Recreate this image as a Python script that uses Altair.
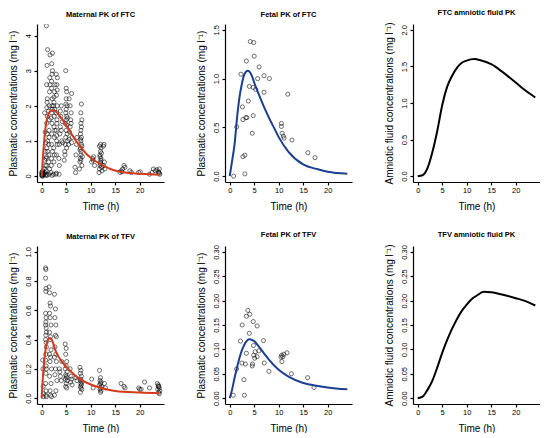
import altair as alt
import pandas as pd

# ---------------- data ----------------
x_ticks = [0, 5, 10, 15, 20]

# Maternal FTC observations
mat_ftc_t = [0.0, 0.05, 0.1, 0.15, 0.2, 0.25, 0.0, 0.3, 0.1, 0.2,
             0.5, 0.55, 0.6, 0.65, 0.7, 0.75, 0.8, 0.85, 0.6, 0.9, 0.7, 0.9,
             1.0, 1.0, 1.05, 1.1, 1.0, 1.15, 1.1, 1.0, 1.1, 1.2, 1.0, 1.2, 1.05, 1.15, 1.1, 1.2, 0.95,
             1.4, 1.45, 1.5, 1.55, 1.5, 1.6, 1.65, 1.7, 1.5, 1.45, 1.6, 1.5, 1.7, 1.4,
             1.9, 2.0, 2.0, 2.05, 2.1, 2.0, 2.1, 2.15, 2.0, 2.1, 2.05, 2.2, 1.95, 2.2, 2.15, 2.0, 2.1, 2.2, 1.9,
             2.4, 2.5, 2.45, 2.6, 2.5, 2.55, 2.65, 2.5, 2.6, 2.7, 2.4, 2.7, 2.6, 2.5,
             2.9, 3.0, 3.05, 3.0, 3.1, 3.0, 3.15, 3.0, 3.1, 3.2, 2.95, 3.1, 3.2, 3.0, 3.15, 3.05,
             3.5, 3.6, 3.7, 3.8, 3.9, 4.0, 3.6, 4.1, 4.2, 3.8, 3.55, 4.3, 4.0,
             4.6, 4.7, 4.8, 4.9, 5.0, 4.8, 5.0, 5.1, 4.9, 5.0, 5.2, 5.0, 5.1, 5.0, 4.9, 5.2, 5.3, 4.75, 5.15, 4.95, 5.25, 5.1,
             5.5, 5.6, 5.7, 5.8, 5.9, 6.0, 5.8, 6.1, 6.0, 6.2, 5.6, 6.1,
             6.9, 7.0, 7.1, 7.2, 6.8,
             7.7, 7.8, 7.9, 8.0, 8.0, 7.9, 8.1, 8.0, 8.1, 7.9, 8.0, 8.1, 8.0, 8.2, 8.0, 8.1, 8.2, 7.8, 8.3, 8.2, 8.0, 7.9,
             10.2, 10.4, 10.6, 10.8, 10.5,
             11.7, 11.8, 11.9, 12.0, 12.0, 12.1, 11.9, 12.0, 12.1, 11.8, 12.0, 12.2, 12.1, 12.3, 11.9, 12.2,
             12.6, 12.8, 12.7, 12.9, 12.6,
             16.0, 16.2, 16.5, 16.8, 17.0, 16.4, 18.0, 18.3, 19.8, 20.1,
             22.0, 22.5, 22.8, 23.2, 23.5, 23.8, 24.0, 24.0, 23.9, 24.1]
mat_ftc_c = [0.02, 0.08, 0.0, 0.12, 0.04, 0.15, 0.1, 0.06, 0.03, 0.0,
             0.05, 0.2, 0.45, 0.1, 0.7, 0.3, 0.02, 0.95, 1.8, 0.15, 1.25, 0.5,
             0.3, 0.55, 0.8, 1.2, 1.5, 1.7, 2.1, 2.6, 3.15, 3.6, 0.05, 0.7, 1.95, 2.2, 0.02, 1.0, 4.28,
             0.4, 0.9, 1.3, 1.6, 2.0, 2.4, 2.8, 3.45, 1.1, 0.6, 0.2, 0.05, 2.6, 1.85,
             0.1, 0.5, 0.9, 1.2, 1.5, 1.8, 2.0, 2.2, 2.5, 2.9, 3.2, 3.0, 0.3, 0.7, 1.9, 2.7, 0.02, 3.5, 1.65,
             0.05, 0.4, 0.8, 1.1, 1.4, 1.7, 1.9, 2.1, 2.4, 2.6, 2.0, 1.3, 0.6, 2.25,
             0.05, 0.6, 1.0, 1.3, 1.5, 1.8, 2.0, 2.3, 2.6, 2.8, 2.9, 1.6, 0.9, 0.08, 2.45, 1.15,
             0.5, 0.9, 1.2, 1.4, 1.7, 2.0, 0.3, 1.0, 1.55, 1.85, 0.05, 0.95, 1.3,
             0.45, 0.7, 0.9, 1.1, 1.3, 1.5, 1.6, 1.7, 1.8, 1.9, 2.0, 2.2, 2.4, 2.5, 3.0, 1.2, 1.0, 0.6, 1.45, 2.05, 1.65, 0.8,
             0.9, 1.05, 1.25, 1.4, 1.6, 1.8, 2.0, 2.35, 1.5, 1.1, 2.2, 0.95,
             0.1, 0.6, 0.9, 1.1, 0.25,
             0.2, 0.4, 0.5, 0.6, 0.7, 0.8, 0.9, 1.0, 1.1, 1.2, 1.3, 1.4, 1.5, 1.6, 1.8, 2.05, 0.3, 0.75, 0.55, 0.85, 0.45, 1.05,
             0.4, 0.5, 0.55, 0.3, 0.45,
             0.1, 0.2, 0.3, 0.35, 0.4, 0.5, 0.6, 0.7, 0.8, 0.85, 0.9, 0.25, 0.45, 0.15, 0.55, 0.65,
             0.3, 0.4, 0.9, 0.2, 0.85,
             0.1, 0.15, 0.2, 0.3, 0.25, 0.12, 0.15, 0.1, 0.1, 0.12,
             0.05, 0.1, 0.2, 0.15, 0.18, 0.12, 0.08, 0.2, 0.1, 0.05]
mat_ftc_curve_t = [0, 0.25, 0.5, 0.75, 1, 1.5, 2, 2.5, 3, 3.5, 4, 5, 6, 7, 8, 9, 10, 11, 12, 14, 16, 18, 20, 22, 24]
mat_ftc_curve_c = [0, 0.55, 1.0, 1.35, 1.58, 1.8, 1.87, 1.87, 1.82, 1.74, 1.65, 1.45, 1.22, 1.0, 0.82, 0.65,
                   0.52, 0.42, 0.34, 0.2, 0.12, 0.085, 0.065, 0.05, 0.035]

# Fetal FTC observations
fet_ftc_t = [0.8, 1.43, 2.3, 2.6, 2.7, 2.7, 3.1, 3.1, 3.3, 3.5, 3.4, 3.8, 4.0, 4.2, 4.6, 4.8, 4.8, 4.9,
             5.0, 5.3, 5.7, 6.0, 7.0, 7.0, 8.1, 10.55, 10.55, 10.7, 10.95, 11.1, 11.85, 12.7, 15.95, 17.4]
fet_ftc_c = [0.0, 0.505, 1.045, 0.71, 0.58, 0.2, 0.215, 0.023, 0.6, 0.6, 1.18, 0.77, 0.92, 1.38, 0.44, 0.62,
             0.91, 1.37, 1.23, 0.89, 1.0, 1.12, 0.86, 1.03, 1.0, 0.54, 0.51, 0.44, 0.41, 0.39, 0.84, 0.37, 0.24, 0.19]
fet_ftc_curve_t = [0, 0.5, 1, 1.5, 2, 2.5, 3, 3.7, 4.5, 5, 6, 7, 8, 9, 10, 12, 15, 18, 20, 24]
fet_ftc_curve_c = [0, 0.16, 0.33, 0.6, 0.81, 0.95, 1.045, 1.08, 1.03, 0.96, 0.83, 0.71, 0.6, 0.5, 0.4, 0.25,
                   0.12, 0.07, 0.045, 0.025]

# FTC amniotic fluid model
amn_ftc_t = [0, 1, 2, 3, 4, 5, 6, 7, 8, 9, 10, 11.5, 13, 15, 17, 20, 22, 24]
amn_ftc_c = [0, 0.013, 0.11, 0.33, 0.62, 0.97, 1.22, 1.37, 1.48, 1.55, 1.58, 1.6, 1.58, 1.53, 1.44, 1.28, 1.17, 1.075]

# Maternal TFV observations
mat_tfv_t = [0.2, 0.25, 0.3, 0.35, 0.3,
             0.8, 0.85, 0.8, 0.9, 0.85, 0.8, 0.9, 0.85, 0.8, 0.9, 0.95, 0.85, 0.8, 0.9, 0.95, 0.85, 0.8, 0.9,
             0.95, 0.85, 0.8, 0.9, 0.85, 0.95,
             1.5, 1.6, 1.7, 1.8, 1.6, 1.7, 1.9, 1.6, 1.8, 1.7, 1.9, 1.6, 1.8, 1.7, 2.0, 1.6, 1.9, 1.7, 1.8, 2.0,
             2.6, 2.8, 2.7, 2.9, 2.8, 3.0, 2.7, 2.9, 2.6, 3.0, 2.8, 2.7, 3.1, 2.9, 2.6,
             3.6, 3.8, 4.0, 3.7, 4.1,
             4.8, 5.0, 4.9, 5.1, 5.0, 4.8, 5.2, 4.9, 5.0, 5.1, 4.8, 5.2, 5.0, 4.9, 5.1,
             5.8, 6.0, 6.1, 5.9, 6.2, 7.0, 7.2,
             7.8, 8.0, 7.9, 8.1, 8.0, 7.9, 8.2, 8.0, 8.1, 7.9, 8.0, 8.2, 7.9,
             10.2, 10.5,
             11.8, 12.0, 11.9, 12.1, 12.0, 11.8, 12.2, 12.0, 11.9, 12.1, 12.0, 12.8, 13.0,
             16.2, 16.8, 17.0, 19.8, 20.0, 20.3, 21.0, 22.0,
             23.6, 23.8, 23.9, 24.0, 23.7, 24.1, 23.9, 24.0, 23.8]
mat_tfv_c = [0.26, 0.2, 0.01, 0.03, 0.08,
             0.89, 0.88, 0.82, 0.75, 0.73, 0.58, 0.55, 0.52, 0.5, 0.48, 0.45, 0.43, 0.4, 0.38, 0.35, 0.3, 0.26, 0.22,
             0.2, 0.17, 0.1, 0.05, 0.02, 0.01,
             0.76, 0.72, 0.65, 0.63, 0.58, 0.55, 0.5, 0.45, 0.42, 0.4, 0.33, 0.3, 0.28, 0.25, 0.2, 0.15, 0.1, 0.05, 0.02, 0.01,
             0.71, 0.61, 0.55, 0.5, 0.43, 0.42, 0.35, 0.3, 0.28, 0.25, 0.2, 0.16, 0.12, 0.05, 0.02,
             0.2, 0.15, 0.12, 0.18, 0.25,
             0.37, 0.34, 0.3, 0.25, 0.22, 0.2, 0.18, 0.16, 0.15, 0.14, 0.13, 0.12, 0.1, 0.08, 0.07,
             0.2, 0.15, 0.13, 0.11, 0.09, 0.14, 0.12,
             0.21, 0.19, 0.17, 0.15, 0.13, 0.12, 0.11, 0.1, 0.09, 0.08, 0.07, 0.06, 0.04,
             0.13, 0.07,
             0.19, 0.14, 0.12, 0.11, 0.1, 0.09, 0.08, 0.07, 0.06, 0.05, 0.04, 0.1, 0.07,
             0.1, 0.08, 0.07, 0.07, 0.06, 0.06, 0.11, 0.07,
             0.1, 0.09, 0.08, 0.07, 0.06, 0.05, 0.04, 0.03, 0.08]
mat_tfv_curve_t = [0, 0.25, 0.5, 1, 1.6, 2, 3, 4, 5, 6, 7, 8, 10, 12, 15, 20, 24]
mat_tfv_curve_c = [0, 0.15, 0.25, 0.37, 0.41, 0.4, 0.31, 0.255, 0.215, 0.18, 0.15, 0.126, 0.093, 0.071, 0.049, 0.038, 0.033]

# Fetal TFV observations
fet_tfv_t = [0.72, 1.4, 2.2, 2.55, 2.5, 2.9, 3.0, 3.2, 3.4, 3.4, 3.7, 4.1, 4.0, 4.6, 4.65, 4.8, 4.85, 4.9,
             5.1, 5.2, 5.6, 5.6, 5.95, 6.9, 7.05, 8.0, 10.45, 10.6, 10.65, 10.85, 11.05, 11.7, 12.6, 15.9, 17.2]
fet_tfv_c = [0.006, 0.06, 0.117, 0.15, 0.072, 0.038, 0.006, 0.07, 0.092, 0.168, 0.18, 0.172, 0.133, 0.066, 0.07,
             0.157, 0.108, 0.088, 0.082, 0.095, 0.148, 0.085, 0.097, 0.118, 0.072, 0.055, 0.084, 0.088, 0.075,
             0.085, 0.09, 0.093, 0.05, 0.042, 0.022]
fet_tfv_curve_t = [0, 0.5, 1, 1.5, 2, 3, 4, 5, 6, 7, 8, 10, 12, 15, 18, 20, 24]
fet_tfv_curve_c = [0, 0.018, 0.042, 0.063, 0.083, 0.11, 0.121, 0.117, 0.105, 0.092, 0.079, 0.058, 0.044, 0.031,
                   0.025, 0.022, 0.018]

# TFV amniotic fluid model
amn_tfv_t = [0, 1, 2, 3, 4, 5, 6, 7, 8, 9, 10, 11, 12, 13.5, 15, 17, 20, 22, 24]
amn_tfv_c = [0, 0.003, 0.017, 0.036, 0.063, 0.093, 0.119, 0.142, 0.162, 0.179, 0.192, 0.203, 0.21, 0.218,
             0.217, 0.213, 0.205, 0.199, 0.19]

# ---------------- chart ----------------
W, H = 127, 158
FONT = "Liberation Sans"
RED = "#d23c1c"
BLUE = "#1c3f8f"
X_DOMAIN = [-0.96, 24.96]
PLASMA = "Plasmatic concentrations (mg l\u207b\u00b9)"
AMNIO = "Amniotic fluid concentrations (mg l\u207b\u00b9)"


def panel(title, ytitle, yticks, ydomain, fmt, curve_t, curve_c, color, pts_t=None, pts_c=None):
    xs = alt.Scale(domain=X_DOMAIN, nice=False, zero=False)
    ys = alt.Scale(domain=ydomain, nice=False, zero=False)
    common = dict(domain=True, domainColor="#000000", domainWidth=1.2, grid=False, tickSize=3,
                  tickColor="#000000", tickWidth=1.2, labelColor="#000000", titleColor="#000000",
                  labelFont=FONT, titleFont=FONT, titleFontWeight="normal",
                  labelPadding=1.5, labelFontSize=7.5, titleFontSize=10,
                  labelFlush=False, labelOverlap=False)
    xaxis = alt.Axis(values=x_ticks, title="Time (h)", titlePadding=7, format="d", **common)
    yaxis = alt.Axis(values=yticks, title=ytitle, titlePadding=6, format=fmt,
                     labelAngle=270, labelAlign="center", labelBaseline="bottom", **common)
    curve_df = pd.DataFrame({"t": curve_t, "c": curve_c})
    line = alt.Chart(curve_df).mark_line(color=color, strokeWidth=2, interpolate="monotone", clip=True).encode(
        x=alt.X("t:Q", scale=xs, axis=xaxis), y=alt.Y("c:Q", scale=ys, axis=yaxis))
    layers = [line]
    if pts_t is not None:
        pts_df = pd.DataFrame({"t": pts_t, "c": pts_c})
        pts = alt.Chart(pts_df).mark_point(shape="circle", filled=False, color="black", size=17,
                                           strokeWidth=0.8, clip=True).encode(
            x=alt.X("t:Q", scale=xs, axis=xaxis), y=alt.Y("c:Q", scale=ys, axis=yaxis))
        layers = [pts, line]
    return alt.layer(*layers).properties(
        width=W, height=H,
        title=alt.TitleParams(title, fontSize=7.5, fontWeight="bold", font=FONT, offset=6,
                              anchor="middle", color="#000000"))


p1 = panel("Maternal PK of FTC", PLASMA, [0, 1, 2, 3, 4], [-0.17, 4.33], "d",
           mat_ftc_curve_t, mat_ftc_curve_c, RED, mat_ftc_t, mat_ftc_c)
p2 = panel("Fetal PK of FTC", PLASMA, [0, 0.5, 1.0, 1.5], [-0.06, 1.56], ".1f",
           fet_ftc_curve_t, fet_ftc_curve_c, BLUE, fet_ftc_t, fet_ftc_c)
p3 = panel("FTC amniotic fluid PK", AMNIO, [0, 0.5, 1.0, 1.5, 2.0], [-0.08, 2.08], ".1f",
           amn_ftc_t, amn_ftc_c, "black")
p4 = panel("Maternal PK of TFV", PLASMA, [0, 0.2, 0.4, 0.6, 0.8, 1.0], [-0.04, 1.04], ".1f",
           mat_tfv_curve_t, mat_tfv_curve_c, RED, mat_tfv_t, mat_tfv_c)
p5 = panel("Fetal PK of TFV", PLASMA, [0, 0.05, 0.10, 0.15, 0.20, 0.25, 0.30], [-0.012, 0.312], ".2f",
           fet_tfv_curve_t, fet_tfv_curve_c, BLUE, fet_tfv_t, fet_tfv_c)
p6 = panel("TFV amniotic fluid PK", AMNIO, [0, 0.05, 0.10, 0.15, 0.20, 0.25, 0.30], [-0.012, 0.312], ".2f",
           amn_tfv_t, amn_tfv_c, "black")

row1 = alt.hconcat(p1, p2, p3, spacing=32)
row2 = alt.hconcat(p4, p5, p6, spacing=32)
chart = alt.vconcat(row1, row2, spacing=19).properties(padding=0).configure_view(stroke=None)

chart.save("out.html", embed_options={"renderer": "svg", "actions": False})
